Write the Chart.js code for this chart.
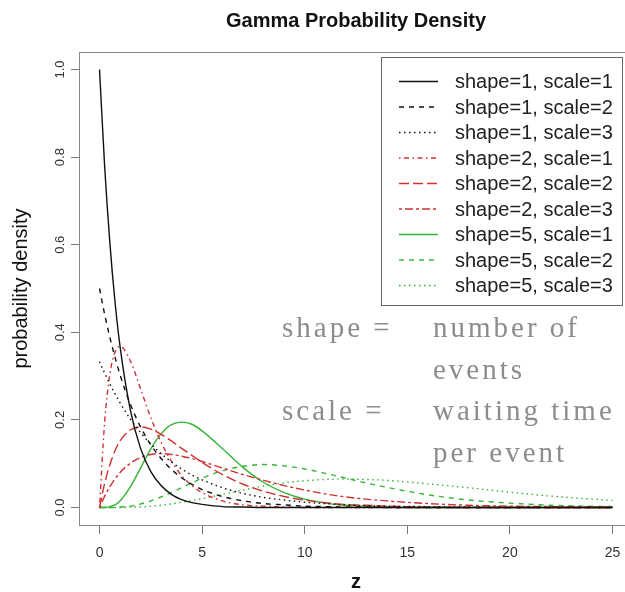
<!DOCTYPE html>
<html>
<head>
<meta charset="utf-8">
<title>Gamma Probability Density</title>
<script src="https://cdn.jsdelivr.net/npm/chart.js@4.4.1/dist/chart.umd.min.js"></script>
<style>
  html, body { margin: 0; padding: 0; background: #fff; overflow: hidden; }
  #wrap { width: 625px; height: 592px; overflow: hidden; }
  canvas { display: block; }
</style>
</head>
<body>
<div id="wrap"><canvas id="gamma" width="645" height="592"></canvas></div>
<script>
const z = [0, 0.25, 0.5, 0.75, 1, 1.5, 2, 2.5, 3, 3.5, 4, 4.5, 5, 6, 7, 8, 9, 10, 11, 12, 13, 14, 16, 18, 20, 22, 25];

const shape1Scale1 = [1.000, 0.779, 0.607, 0.472, 0.368, 0.223, 0.135, 0.082, 0.050, 0.030, 0.018, 0.011, 0.007, 0.002, 0.001, 0, 0, 0, 0, 0, 0, 0, 0, 0, 0, 0, 0];
const shape1Scale2 = [0.500, 0.441, 0.389, 0.344, 0.303, 0.236, 0.184, 0.143, 0.112, 0.087, 0.068, 0.053, 0.041, 0.025, 0.015, 0.009, 0.006, 0.003, 0.002, 0.001, 0.001, 0, 0, 0, 0, 0, 0];
const shape1Scale3 = [0.333, 0.307, 0.282, 0.260, 0.239, 0.202, 0.171, 0.145, 0.123, 0.104, 0.088, 0.074, 0.063, 0.045, 0.032, 0.023, 0.017, 0.012, 0.009, 0.006, 0.004, 0.003, 0.002, 0.001, 0, 0, 0];
const shape2Scale1 = [0, 0.195, 0.303, 0.354, 0.368, 0.335, 0.271, 0.205, 0.149, 0.106, 0.073, 0.050, 0.034, 0.015, 0.006, 0.003, 0.001, 0, 0, 0, 0, 0, 0, 0, 0, 0, 0];
const shape2Scale2 = [0, 0.055, 0.097, 0.129, 0.152, 0.177, 0.184, 0.179, 0.167, 0.152, 0.135, 0.119, 0.103, 0.075, 0.053, 0.037, 0.025, 0.017, 0.011, 0.007, 0.005, 0.003, 0.001, 0, 0, 0, 0];
const shape2Scale3 = [0, 0.026, 0.047, 0.065, 0.080, 0.101, 0.114, 0.121, 0.123, 0.121, 0.117, 0.112, 0.105, 0.090, 0.075, 0.062, 0.050, 0.040, 0.031, 0.024, 0.019, 0.015, 0.009, 0.005, 0.003, 0.002, 0.001];
const shape5Scale1 = [0, 0, 0.002, 0.006, 0.015, 0.047, 0.090, 0.134, 0.168, 0.189, 0.195, 0.190, 0.175, 0.134, 0.091, 0.057, 0.034, 0.019, 0.010, 0.005, 0.003, 0.001, 0, 0, 0, 0, 0];
const shape5Scale2 = [0, 0, 0, 0, 0.001, 0.003, 0.008, 0.015, 0.024, 0.034, 0.045, 0.056, 0.067, 0.084, 0.094, 0.098, 0.095, 0.088, 0.078, 0.067, 0.056, 0.046, 0.029, 0.017, 0.010, 0.005, 0.002];
const shape5Scale3 = [0, 0, 0, 0, 0, 0.001, 0.001, 0.003, 0.005, 0.008, 0.012, 0.016, 0.020, 0.030, 0.040, 0.049, 0.056, 0.061, 0.064, 0.065, 0.064, 0.062, 0.054, 0.045, 0.035, 0.026, 0.016];

const seriesLabels = [
  'shape=1, scale=1', 'shape=1, scale=2', 'shape=1, scale=3',
  'shape=2, scale=1', 'shape=2, scale=2', 'shape=2, scale=3',
  'shape=5, scale=1', 'shape=5, scale=2', 'shape=5, scale=3'
];
const seriesValues = [shape1Scale1, shape1Scale2, shape1Scale3, shape2Scale1, shape2Scale2, shape2Scale3, shape5Scale1, shape5Scale2, shape5Scale3];

const xTicks = [0, 5, 10, 15, 20, 25];
const yTicks = [0, 0.2, 0.4, 0.6, 0.8, 1.0];

const noteLeft = ['shape =', '', 'scale =', ''];
const noteRight = ['number of', 'events', 'waiting time', 'per event'];

// R line types: solid, dashed, dotted, dotdash, longdash, twodash
const BLACK = '#111111', RED = '#d03030', GREEN = '#33b533';
const colors = [BLACK, BLACK, BLACK, RED, RED, RED, GREEN, GREEN, GREEN];
const dashes = [[], [5, 5], [1.5, 3.5], [1.5, 3.5, 5, 3.5], [10, 4], [3, 3, 8, 3], [], [5, 5], [1.5, 3.5]];

const SANS = '"Liberation Sans", Arial, sans-serif';

const datasets = seriesValues.map((vals, i) => ({
  label: seriesLabels[i],
  data: z.map((x, j) => ({ x: x, y: vals[j] })),
  borderColor: colors[i],
  borderWidth: 1.4,
  borderDash: dashes[i],
  pointRadius: 0,
  fill: false,
  cubicInterpolationMode: 'monotone'
}));

const boxPlugin = {
  id: 'rbox',
  afterDatasetsDraw(chart) {
    const { ctx, chartArea: a } = chart;
    ctx.save();
    ctx.strokeStyle = '#888';
    ctx.lineWidth = 1;
    ctx.strokeRect(a.left + 0.5, a.top + 0.5, a.right - a.left, a.bottom - a.top);
    ctx.restore();
  }
};

const notePlugin = {
  id: 'notes',
  afterDatasetsDraw(chart) {
    const ctx = chart.ctx;
    ctx.save();
    ctx.fillStyle = '#8c8c8c';
    ctx.font = '29px "Liberation Serif", "Times New Roman", serif';
    ctx.letterSpacing = '3px';
    ctx.textBaseline = 'alphabetic';
    ctx.textAlign = 'left';
    for (let i = 0; i < noteRight.length; i++) {
      const y = 337 + i * 41.7;
      if (noteLeft[i]) ctx.fillText(noteLeft[i], 282, y);
      ctx.fillText(noteRight[i], 433, y);
    }
    ctx.restore();
  }
};

const legendPlugin = {
  id: 'rlegend',
  afterDraw(chart) {
    const ctx = chart.ctx;
    ctx.save();
    ctx.fillStyle = '#fff';
    ctx.fillRect(381.5, 57.5, 241, 248);
    ctx.strokeStyle = '#666';
    ctx.lineWidth = 1;
    ctx.strokeRect(381.5, 57.5, 241, 248);
    ctx.font = '20px ' + SANS;
    ctx.textBaseline = 'middle';
    ctx.textAlign = 'left';
    seriesLabels.forEach((lab, i) => {
      const y = 81.5 + i * 25.5;
      ctx.beginPath();
      ctx.strokeStyle = colors[i];
      ctx.lineWidth = 1.4;
      ctx.setLineDash(dashes[i]);
      ctx.moveTo(399, y);
      ctx.lineTo(438, y);
      ctx.stroke();
      ctx.setLineDash([]);
      ctx.fillStyle = '#222';
      ctx.fillText(lab, 455, y + 1);
    });
    ctx.restore();
  }
};

new Chart(document.getElementById('gamma'), {
  type: 'line',
  data: { datasets: datasets },
  plugins: [boxPlugin, notePlugin, legendPlugin],
  options: {
    responsive: false,
    animation: false,
    devicePixelRatio: 1,
    layout: { padding: { left: 0, right: 12, top: 0, bottom: 0 } },
    plugins: {
      legend: { display: false },
      tooltip: { enabled: false },
      title: {
        display: true,
        text: 'Gamma Probability Density',
        fullSize: false,
        color: '#111',
        font: { family: SANS, size: 20, weight: 'bold', lineHeight: 1.2 },
        padding: { top: 9, bottom: 19 }
      }
    },
    scales: {
      x: {
        type: 'linear',
        min: -1,
        max: 26,
        afterBuildTicks: s => { s.ticks = xTicks.map(v => ({ value: v })); },
        afterFit: s => { s.height = 67; s.paddingLeft = 0; s.paddingRight = 0; },
        border: { display: false },
        grid: { display: true, drawOnChartArea: false, drawTicks: true, tickLength: 9, tickColor: '#777' },
        ticks: { color: '#333', font: { family: SANS, size: 14 }, padding: 11, maxRotation: 0, callback: v => String(v) },
        title: { display: true, text: 'z', color: '#111', font: { family: SANS, size: 20, weight: 'bold', lineHeight: 1 }, padding: { top: 0, bottom: 0 } }
      },
      y: {
        min: -0.04,
        max: 1.04,
        afterBuildTicks: s => { s.ticks = yTicks.map(v => ({ value: v })); },
        afterFit: s => { s.width = 79; s.paddingTop = 0; s.paddingBottom = 0; },
        border: { display: false },
        grid: { display: true, drawOnChartArea: false, drawTicks: true, tickLength: 8, tickColor: '#777' },
        ticks: { color: '#333', font: { family: SANS, size: 13 }, padding: 2, minRotation: 90, maxRotation: 90, crossAlign: 'center', callback: v => v.toFixed(1) },
        title: { display: true, text: 'probability density', color: '#111', font: { family: SANS, size: 20, lineHeight: 1.2 }, padding: { top: 9, bottom: 0 } }
      }
    }
  }
});
</script>
</body>
</html>
